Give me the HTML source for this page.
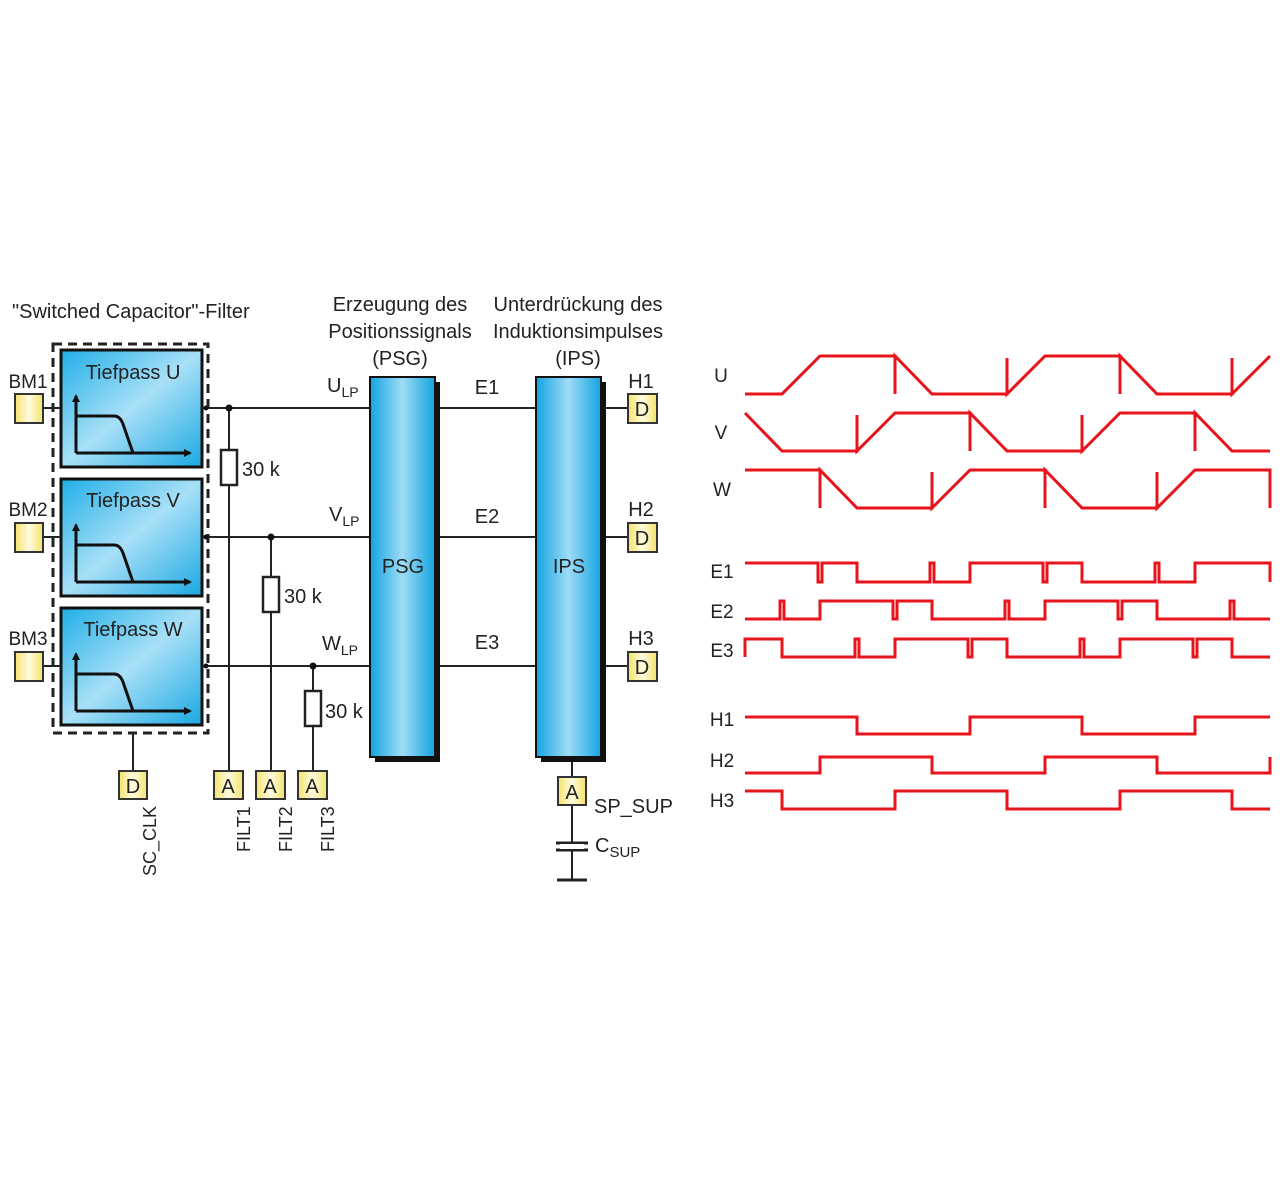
<!DOCTYPE html>
<html><head><meta charset="utf-8"><style>
html,body{margin:0;padding:0;background:#fff;}
svg{display:block;}
text{font-family:"Liberation Sans Narrow","Liberation Sans",sans-serif;fill:#222;}
</style></head><body>
<svg width="1280" height="1190" viewBox="0 0 1280 1190" xmlns="http://www.w3.org/2000/svg">
<defs>
<linearGradient id="bl" x1="0" y1="0" x2="1" y2="0">
<stop offset="0" stop-color="#12a4e0"/><stop offset="0.5" stop-color="#9fdcf6"/><stop offset="1" stop-color="#12a4e0"/></linearGradient>
<linearGradient id="bb" x1="0" y1="0" x2="1" y2="1">
<stop offset="0" stop-color="#20aee6"/><stop offset="0.5" stop-color="#a8e0f7"/><stop offset="1" stop-color="#1aa8e2"/></linearGradient>
<linearGradient id="yl" x1="0" y1="0" x2="1" y2="0">
<stop offset="0" stop-color="#f3e36a"/><stop offset="0.5" stop-color="#fffbe0"/><stop offset="1" stop-color="#f3e36a"/></linearGradient>
<marker id="ar" markerWidth="8" markerHeight="8" refX="6" refY="4" orient="auto" markerUnits="userSpaceOnUse"><path d="M0,0 L8,4 L0,8 z" fill="#111"/></marker>
</defs>

<text x="12" y="318" font-size="20">"Switched Capacitor"-Filter</text>
<g font-size="20" text-anchor="middle">
<text x="400" y="311">Erzeugung des</text><text x="400" y="338">Positionssignals</text><text x="400" y="365">(PSG)</text>
<text x="578" y="311">Unterdrückung des</text><text x="578" y="338">Induktionsimpulses</text><text x="578" y="365">(IPS)</text>
</g>

<!-- dashed box -->
<rect x="53" y="344" width="155" height="389" fill="none" stroke="#222" stroke-width="3" stroke-dasharray="9,6"/>

<!-- filter blocks -->
<g stroke="#111">
<rect x="61" y="350" width="141" height="117" fill="url(#bb)" stroke-width="3"/>
<rect x="61" y="479" width="141" height="117" fill="url(#bb)" stroke-width="3"/>
<rect x="61" y="608" width="141" height="117" fill="url(#bb)" stroke-width="3"/>
</g>
<g font-size="20" text-anchor="middle">
<text x="133" y="379">Tiefpass U</text>
<text x="133" y="507">Tiefpass V</text>
<text x="133" y="636">Tiefpass W</text>
</g>
<g fill="none" stroke="#111" stroke-width="3">
<path d="M76,453 L76,396" marker-end="url(#ar)"/><path d="M76,453 L190,453" marker-end="url(#ar)"/><path d="M76,416 L114,416 Q120,416 123,424 L133,453"/>
<path d="M76,582 L76,525" marker-end="url(#ar)"/><path d="M76,582 L190,582" marker-end="url(#ar)"/><path d="M76,545 L114,545 Q120,545 123,553 L133,582"/>
<path d="M76,711 L76,654" marker-end="url(#ar)"/><path d="M76,711 L190,711" marker-end="url(#ar)"/><path d="M76,674 L114,674 Q120,674 123,682 L133,711"/>
</g>

<!-- BM pads -->
<g font-size="19" text-anchor="middle"><text x="28" y="388">BM1</text><text x="28" y="516">BM2</text><text x="28" y="645">BM3</text></g>
<g fill="url(#yl)" stroke="#333" stroke-width="2">
<rect x="15" y="394" width="28" height="29"/><rect x="15" y="523" width="28" height="29"/><rect x="15" y="652" width="28" height="29"/>
</g>
<g stroke="#222" stroke-width="2">
<line x1="43" y1="408" x2="61" y2="408"/><line x1="43" y1="537" x2="61" y2="537"/><line x1="43" y1="666" x2="61" y2="666"/>
<line x1="202" y1="408" x2="370" y2="408"/><line x1="202" y1="537" x2="370" y2="537"/><line x1="202" y1="666" x2="370" y2="666"/>
<line x1="229" y1="408" x2="229" y2="771"/><line x1="271" y1="537" x2="271" y2="771"/><line x1="313" y1="666" x2="313" y2="771"/>
<line x1="133" y1="733" x2="133" y2="771"/>
<line x1="436" y1="408" x2="536" y2="408"/><line x1="436" y1="537" x2="536" y2="537"/><line x1="436" y1="666" x2="536" y2="666"/>
<line x1="601" y1="408" x2="628" y2="408"/><line x1="601" y1="537" x2="628" y2="537"/><line x1="601" y1="666" x2="628" y2="666"/>
<line x1="572" y1="758" x2="572" y2="777"/><line x1="572" y1="805" x2="572" y2="880"/>
</g>
<g fill="#111"><circle cx="229" cy="408" r="3.5"/><circle cx="271" cy="537" r="3.5"/><circle cx="313" cy="666" r="3.5"/>
<circle cx="206" cy="408" r="2.5"/><circle cx="206" cy="537" r="2.5"/><circle cx="206" cy="666" r="2.5"/></g>

<!-- resistors -->
<g fill="#fff" stroke="#222" stroke-width="2.5">
<rect x="221" y="450" width="16" height="35"/><rect x="263" y="577" width="16" height="35"/><rect x="305" y="691" width="16" height="35"/>
</g>
<g font-size="20"><text x="242" y="476">30 k</text><text x="284" y="603">30 k</text><text x="325" y="718">30 k</text></g>

<!-- bottom pads -->
<g fill="url(#yl)" stroke="#333" stroke-width="2">
<rect x="119" y="771" width="28" height="28"/><rect x="214" y="771" width="29" height="28"/><rect x="256" y="771" width="29" height="28"/><rect x="298" y="771" width="29" height="28"/>
<rect x="558" y="777" width="28" height="28"/>
<rect x="628" y="394" width="29" height="29"/><rect x="628" y="523" width="29" height="29"/><rect x="628" y="652" width="29" height="29"/>
</g>
<g font-size="20" text-anchor="middle">
<text x="133" y="793">D</text><text x="228" y="793">A</text><text x="270" y="793">A</text><text x="312" y="793">A</text><text x="572" y="799">A</text>
<text x="642" y="416">D</text><text x="642" y="545">D</text><text x="642" y="674">D</text>
<text x="641" y="388">H1</text><text x="641" y="516">H2</text><text x="641" y="645">H3</text>
</g>
<g font-size="18">
<text transform="translate(156,876) rotate(-90)">SC_CLK</text>
<text transform="translate(250,852) rotate(-90)">FILT1</text>
<text transform="translate(292,852) rotate(-90)">FILT2</text>
<text transform="translate(334,852) rotate(-90)">FILT3</text>
</g>

<!-- PSG / IPS -->
<rect x="375" y="382" width="65" height="380" fill="#111"/>
<rect x="370" y="377" width="65" height="380" fill="url(#bl)" stroke="#111" stroke-width="2"/>
<rect x="541" y="382" width="65" height="380" fill="#111"/>
<rect x="536" y="377" width="65" height="380" fill="url(#bl)" stroke="#111" stroke-width="2"/>
<g font-size="20" text-anchor="middle"><text x="403" y="573">PSG</text><text x="569" y="573">IPS</text>
<text x="487" y="394">E1</text><text x="487" y="523">E2</text><text x="487" y="649">E3</text></g>
<g font-size="20"><text x="327" y="392">U<tspan font-size="14" dy="5">LP</tspan></text>
<text x="329" y="521">V<tspan font-size="14" dy="5">LP</tspan></text>
<text x="322" y="650">W<tspan font-size="14" dy="5">LP</tspan></text>
<text x="594" y="813">SP_SUP</text>
<text x="595" y="852">C<tspan font-size="15" dy="5">SUP</tspan></text></g>
<g stroke="#222" stroke-width="3"><line x1="556" y1="843" x2="588" y2="843"/><line x1="556" y1="850" x2="588" y2="850"/><line x1="557" y1="880" x2="587" y2="880"/></g>
<rect x="560" y="844" width="24" height="5" fill="#fff"/>

<!-- waveforms -->
<g font-size="19" text-anchor="middle">
<text x="721" y="382">U</text><text x="721" y="439">V</text><text x="722" y="496">W</text>
<text x="722" y="578">E1</text><text x="722" y="618">E2</text><text x="722" y="657">E3</text>
<text x="722" y="726">H1</text><text x="722" y="767">H2</text><text x="722" y="807">H3</text>
</g>
<g fill="none" stroke="#e8141c" stroke-width="3" stroke-linejoin="miter">
<path d="M745,394 L782,394 L820,356 L895,356 L895,394 L895,356 L932,394 L1007,394 L1007,358 L1007,394 L1045,356 L1120,356 L1120,394 L1120,356 L1157,394 L1232,394 L1232,358 L1232,394 L1270,356"/>
<path d="M745,413 L782,451 L857,451 L857,415 L857,451 L895,413 L970,413 L970,451 L970,413 L1007,451 L1082,451 L1082,415 L1082,451 L1120,413 L1195,413 L1195,451 L1195,413 L1232,451 L1270,451"/>
<path d="M745,470 L820,470 L820,508 L820,470 L857,508 L932,508 L932,472 L932,508 L970,470 L1045,470 L1045,508 L1045,470 L1082,508 L1157,508 L1157,472 L1157,508 L1195,470 L1270,470 L1270,508"/>
<path d="M745,563 L818,563 L818,582 L822,582 L822,563 L857,563 L857,582 L930,582 L930,563 L934,563 L934,582 L970,582 L970,563 L1043,563 L1043,582 L1047,582 L1047,563 L1082,563 L1082,582 L1155,582 L1155,563 L1159,563 L1159,582 L1195,582 L1195,563 L1270,563 L1270,582"/>
<path d="M745,619 L780,619 L780,601 L784,601 L784,619 L820,619 L820,601 L893,601 L893,619 L897,619 L897,601 L932,601 L932,619 L1005,619 L1005,601 L1009,601 L1009,619 L1045,619 L1045,601 L1118,601 L1118,619 L1122,619 L1122,601 L1157,601 L1157,619 L1230,619 L1230,601 L1234,601 L1234,619 L1270,619"/>
<path d="M745,657 L745,639 L782,639 L782,657 L855,657 L855,639 L859,639 L859,657 L895,657 L895,639 L968,639 L968,657 L972,657 L972,639 L1007,639 L1007,657 L1080,657 L1080,639 L1084,639 L1084,657 L1120,657 L1120,639 L1193,639 L1193,657 L1197,657 L1197,639 L1232,639 L1232,657 L1270,657"/>
<path d="M745,717 L857,717 L857,734 L970,734 L970,717 L1082,717 L1082,734 L1195,734 L1195,717 L1270,717"/>
<path d="M745,773 L820,773 L820,757 L932,757 L932,773 L1045,773 L1045,757 L1157,757 L1157,773 L1270,773 L1270,757"/>
<path d="M745,791 L782,791 L782,809 L895,809 L895,791 L1007,791 L1007,809 L1120,809 L1120,791 L1232,791 L1232,809 L1270,809"/>
</g>
</svg>
</body></html>
